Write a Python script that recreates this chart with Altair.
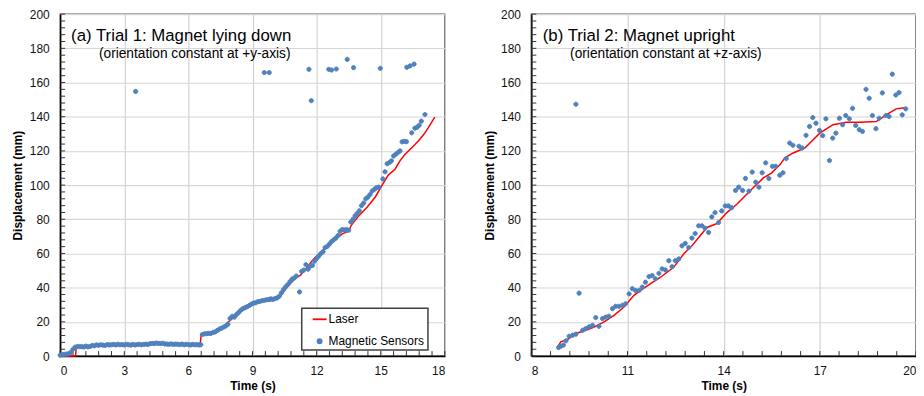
import altair as alt
import pandas as pd

FONT = "Liberation Sans"
BLUE = "#4f81bd"
RED = "#ff0000"

# ---------------- Panel (a): Trial 1, magnet lying down ----------------
a_sensor_t = [0.0, 0.1, 0.2, 0.3, 0.4, 0.5, 0.6, 0.7, 0.8, 0.9,
              1.0, 1.1, 1.2, 1.3, 1.4, 1.5, 1.6, 1.7, 1.8, 1.9,
              2.0, 2.1, 2.2, 2.3, 2.4, 2.5, 2.6, 2.7, 2.8, 2.9,
              3.0, 3.1, 3.2, 3.3, 3.4, 3.5, 3.6, 3.7, 3.8, 3.9,
              4.0, 4.1, 4.2, 4.3, 4.4, 4.5, 4.6, 4.7, 4.8, 4.9,
              5.0, 5.1, 5.2, 5.3, 5.4, 5.5, 5.6, 5.7, 5.8, 5.9,
              6.0, 6.1, 6.2, 6.3, 6.4, 6.5, 6.58,
              6.65, 6.75, 6.85, 6.95, 7.05, 7.15, 7.25, 7.35, 7.45, 7.55,
              7.65, 7.75, 7.85, 7.95, 8.05, 8.15, 8.25, 8.35, 8.45, 8.55,
              8.65, 8.75, 8.85, 8.95, 9.05, 9.15, 9.25, 9.35, 9.45, 9.55,
              9.65, 9.75, 9.85, 9.95, 10.05, 10.15, 10.25, 10.35, 10.45, 10.55,
              10.65, 10.75, 10.85, 10.95, 11.05, 11.2, 11.3, 11.4, 11.5, 11.6,
              11.7, 11.8, 11.9, 12.0, 12.1, 12.2, 12.3, 12.4, 12.5, 12.6,
              12.7, 12.8, 12.9, 13.0, 13.1, 13.2, 13.3, 13.4, 13.5, 13.6,
              13.7, 13.8, 13.9, 14.0, 14.1, 14.2, 14.3, 14.4, 14.5, 14.6,
              14.7, 14.8, 14.9, 15.1, 15.2, 15.3, 15.4, 15.5, 15.6, 15.7,
              15.8, 15.9, 16.0, 16.1, 16.2, 16.45, 16.6, 16.7, 16.8, 16.9,
              17.07]
a_sensor_v = [0.5, 1.0, 1.0, 1.2, 1.3, 2.2, 4.0, 5.2, 5.6, 5.5,
              5.5, 5.3, 5.8, 5.4, 5.6, 6.2, 6.0, 6.5, 6.3, 6.6,
              6.4, 6.2, 6.7, 6.5, 6.6, 6.8, 6.5, 6.9, 6.6, 6.7,
              6.5, 6.9, 6.6, 6.4, 6.8, 6.5, 6.7, 6.9, 6.6, 6.8,
              7.0, 6.8, 7.2, 7.4, 7.3, 7.6, 7.4, 7.3, 7.5, 7.1,
              7.0, 6.9, 7.1, 6.8, 7.0, 6.9, 6.7, 7.0, 6.6, 6.9,
              6.7, 6.5, 6.8, 6.6, 6.7, 6.5, 6.6,
              12.6, 13.0, 13.1, 13.3, 13.2, 13.8, 14.1, 15.0, 15.8, 16.3,
              17.0, 17.6, 18.6, 22.0, 23.3, 22.8, 24.3, 25.5, 26.8, 27.8,
              28.3, 28.9, 29.6, 30.4, 31.0, 31.2, 31.8, 32.0, 32.4, 32.6,
              32.9, 33.0, 33.5, 33.2, 33.6, 34.0, 35.0, 37.0, 39.0, 40.5,
              41.8, 43.5, 45.0, 45.6, 46.8, 37.5, 49.5, 50.3, 53.5, 50.8,
              52.6, 53.0, 55.5, 57.0, 58.5, 60.0, 61.0, 63.5, 64.2, 65.5,
              67.0, 68.0, 69.0, 70.5, 73.0, 74.0, 73.8, 74.0, 73.6, 78.4,
              80.0, 82.0, 83.5, 85.0, 88.0, 89.5, 92.0, 93.0, 94.5, 96.5,
              97.5, 98.5, 98.8, 103.6, 107.8, 112.5, 113.2, 114.2, 117.0, 118.0,
              119.0, 120.0, 125.3, 125.6, 125.4, 130.6, 133.3, 133.8, 135.0, 137.4,
              141.3]
a_outlier_t = [3.53, 9.55, 9.78, 11.64, 11.75, 12.57, 12.7, 12.92, 13.43, 13.73,
               14.98, 16.22, 16.37, 16.56]
a_outlier_v = [154.8, 165.8, 165.8, 167.7, 149.4, 167.7, 167.3, 167.9, 173.5, 168.7,
               168.3, 168.9, 169.7, 170.8]
a_laser_t = [0, 0.72, 0.75, 1.5, 3.0, 4.5, 6.55, 6.6, 7.0, 7.5,
             8.0, 8.5, 9.0, 9.5, 10.0, 10.3, 10.63, 11.0, 11.26, 11.49,
             11.88, 12.42, 12.8, 13.2, 13.5, 13.62, 13.97, 14.36, 14.74, 15.05,
             15.36, 15.67, 15.9, 16.14, 16.45, 16.76, 17.02, 17.22, 17.53]
a_laser_v = [0, 0, 5.0, 6.0, 6.5, 7.0, 6.8, 12.5, 13.0, 15.5,
             21.5, 26.5, 30.0, 32.0, 32.5, 35.0, 40.5, 45.5, 47.5, 51.0,
             57.0, 63.5, 67.5, 71.5, 73.0, 76.5, 82.0, 87.1, 92.9, 99.7,
             106.0, 109.3, 114.2, 118.0, 121.9, 125.8, 129.7, 133.5, 139.7]

# ---------------- Panel (b): Trial 2, magnet upright ----------------
b_sensor_t = [8.85, 8.92, 9.0, 9.08, 9.18, 9.29, 9.39, 9.49, 9.6, 9.7,
              9.8, 9.91, 10.01, 10.11, 10.22, 10.32, 10.42, 10.53, 10.63, 10.73,
              10.84, 10.94, 11.05, 11.15, 11.25, 11.36, 11.46, 11.56, 11.67, 11.77,
              11.87, 11.98, 12.08, 12.18, 12.29, 12.39, 12.49, 12.6, 12.7, 12.8,
              12.91, 13.01, 13.11, 13.22, 13.32, 13.42, 13.53, 13.63, 13.73, 13.84,
              13.94, 14.05, 14.15, 14.25, 14.37, 14.47, 14.59, 14.68, 14.79, 14.89,
              15.0, 15.1, 15.2, 15.31, 15.41, 15.52, 15.62, 15.75, 15.85, 15.95,
              16.06, 16.16, 16.35, 16.45, 16.57, 16.68, 16.78, 16.88, 16.99, 17.09,
              17.19, 17.3, 17.4, 17.5, 17.61, 17.71, 17.81, 17.92, 18.02, 18.12,
              18.23, 18.33, 18.44, 18.54, 18.64, 18.75, 18.85, 18.95, 19.06, 19.16,
              19.26, 19.37, 19.47, 19.57, 19.68]
b_sensor_v = [5.0, 5.8, 6.4, 8.9, 11.6, 12.2, 12.8, 36.8, 15.1, 16.1,
              17.1, 18.0, 22.5, 17.4, 21.9, 22.8, 23.3, 27.7, 29.1, 29.1,
              29.7, 30.6, 36.4, 39.4, 38.4, 38.4, 40.3, 43.2, 46.5, 47.1,
              45.2, 48.4, 51.0, 50.4, 55.8, 52.3, 55.8, 56.8, 64.5, 65.9,
              63.5, 69.0, 71.7, 76.2, 76.2, 74.8, 72.3, 81.4, 83.9, 78.1,
              84.9, 87.8, 87.8, 86.8, 96.9, 98.8, 96.9, 103.9, 96.5, 107.6,
              101.7, 98.8, 107.2, 113.0, 103.9, 111.0, 111.0, 105.8, 107.2, 115.5,
              124.6, 123.3, 122.7, 121.7, 129.1, 134.3, 139.5, 136.2, 132.0, 128.9,
              138.8, 114.4, 127.5, 130.4, 139.1, 135.3, 140.7, 138.8, 144.9, 134.9,
              132.4, 131.4, 156.0, 150.8, 140.7, 133.0, 139.1, 153.9, 140.7, 140.1,
              164.9, 152.7, 154.1, 141.1, 144.6]
b_outlier_t = [9.39]
b_outlier_v = [147.3]
b_laser_t = [8.82, 8.92, 9.13, 9.39, 9.7, 9.96, 10.27, 10.58, 10.89, 11.2,
             11.41, 11.72, 12.03, 12.44, 12.75, 13.06, 13.22, 13.48, 13.79, 14.1,
             14.41, 14.72, 14.92, 15.24, 15.5, 15.76, 15.91, 16.17, 16.53, 16.69,
             17.0, 17.41, 17.83, 18.24, 18.76, 19.07, 19.38, 19.64]
b_laser_v = [5.4, 8.3, 9.7, 13.2, 15.1, 17.0, 20.0, 23.8, 28.7, 35.5,
             38.4, 42.3, 46.1, 51.9, 59.7, 65.5, 69.4, 75.2, 77.5, 83.9,
             88.8, 94.6, 98.4, 104.2, 107.2, 112.0, 115.9, 118.8, 121.7, 124.6,
             130.4, 135.3, 136.8, 136.8, 137.2, 141.1, 144.6, 145.3]

# ---------------- Axis / label text ----------------
a_xticks = [0, 3, 6, 9, 12, 15, 18]
b_xticks = [8, 11, 14, 17, 20]
y_ticks = [0, 20, 40, 60, 80, 100, 120, 140, 160, 180, 200]
series_names = ["Laser", "Magnetic Sensors"]
a_title = "(a) Trial 1: Magnet lying down"
a_sub = "(orientation constant at +y-axis)"
b_title = "(b) Trial 2: Magnet upright"
b_sub = "(orientation constant at +z-axis)"

W, H = 387, 344
CIRCLE = "M-0.3,0A0.3,0.3 0 1,0 0.3,0A0.3,0.3 0 1,0 -0.3,0Z"
LINE = "M-1,0L1,0"


def panel(s_t, s_v, o_t, o_v, l_t, l_v, xticks, title, sub, tx, lx, ly):
    sens = pd.DataFrame({"t": s_t + o_t, "v": s_v + o_v})
    sens["series"] = "Magnetic Sensors"
    las = pd.DataFrame({"t": l_t, "v": l_v})
    x0, x1 = xticks[0], xticks[-1]
    n_minor = int(round((x1 - x0) / 0.6))
    minor_x = pd.DataFrame({"t": [x0 + 0.6 * i for i in range(n_minor + 1)]})
    minor_y = pd.DataFrame({"v": [4 * i for i in range(51)]})

    xscale = alt.Scale(domain=[x0, x1], nice=False, zero=False)
    yscale = alt.Scale(domain=[0, 200], nice=False)
    xaxis = alt.Axis(values=xticks, title="Time (s)", grid=True, ticks=False, tickSize=0,
                     labelPadding=10, titlePadding=4, gridColor="#cfcfcf", gridWidth=1.1,
                     domainColor="#000000", domainWidth=1.4, labelFontSize=12,
                     titleFontSize=12, titleFontWeight="bold", labelColor="#111",
                     titleColor="#000")
    yaxis = alt.Axis(values=y_ticks, title="Displacement (mm)", grid=True, ticks=False,
                     tickSize=0, labelPadding=11, titlePadding=4.5, gridColor="#d6d6d6",
                     gridWidth=1.1, domainColor="#000000", domainWidth=1.4,
                     labelFontSize=12, titleFontSize=12, titleFontWeight="bold",
                     labelColor="#111", titleColor="#000")
    X = alt.X("t:Q", scale=xscale, axis=xaxis)
    Y = alt.Y("v:Q", scale=yscale, axis=yaxis)

    tick_x = alt.Chart(minor_x).mark_rule(color="#333", strokeWidth=1).encode(
        x=X, y=alt.value(H), y2=alt.value(H - 5))
    tick_y = alt.Chart(minor_y).mark_rule(color="#333", strokeWidth=1).encode(
        y=Y, x=alt.value(0), x2=alt.value(5))
    line = alt.Chart(las).mark_line(color=RED, strokeWidth=1.5).encode(x=X, y=Y)

    cscale = alt.Scale(domain=series_names, range=[RED, BLUE])
    sscale = alt.Scale(domain=series_names, range=[LINE, CIRCLE])
    leg = alt.Legend(title=None, orient="none", legendX=lx, legendY=ly,
                     strokeColor="#404040", fillColor="white", padding=3,
                     symbolOffset=7, symbolSize=196, symbolStrokeWidth=1.8,
                     labelFontSize=12, labelFont=FONT, labelColor="#000",
                     rowPadding=8, labelOffset=1, labelLimit=300)
    pts = alt.Chart(sens).mark_point(filled=True, size=196, strokeWidth=1.0, opacity=1).encode(
        x=X, y=Y,
        fill=alt.Fill("series:N", scale=cscale, legend=leg),
        stroke=alt.Stroke("series:N", scale=cscale, legend=leg),
        shape=alt.Shape("series:N", scale=sscale, legend=leg),
    )
    t1 = alt.Chart(pd.DataFrame({"label": [title]})).mark_text(
        align="left", baseline="middle", fontSize=16.9, font=FONT, color="#000").encode(
        x=alt.value(tx), y=alt.value(22), text="label:N")
    t2 = alt.Chart(pd.DataFrame({"label": [sub]})).mark_text(
        align="left", baseline="middle", fontSize=13.8, font=FONT, color="#000").encode(
        x=alt.value(39), y=alt.value(39.7), text="label:N")
    return alt.layer(tick_x, tick_y, line, pts, t1, t2).properties(width=W, height=H)


pa = panel(a_sensor_t, a_sensor_v, a_outlier_t, a_outlier_v, a_laser_t, a_laser_v,
           a_xticks, a_title, a_sub, 11, 243, 296)
pb = panel(b_sensor_t, b_sensor_v, b_outlier_t, b_outlier_v, b_laser_t, b_laser_v,
           b_xticks, b_title, b_sub, 11.5, 243, 294)

chart = alt.hconcat(pa, pb, spacing=87, bounds="flush").properties(
    padding={"left": 2.5, "top": -2, "right": -2, "bottom": 0}
).configure(font=FONT).configure_view(stroke="#595959", strokeWidth=1.5).configure_legend(
    strokeWidth=1.5)

chart.save("out.html", embed_options={"renderer": "svg", "actions": False})
